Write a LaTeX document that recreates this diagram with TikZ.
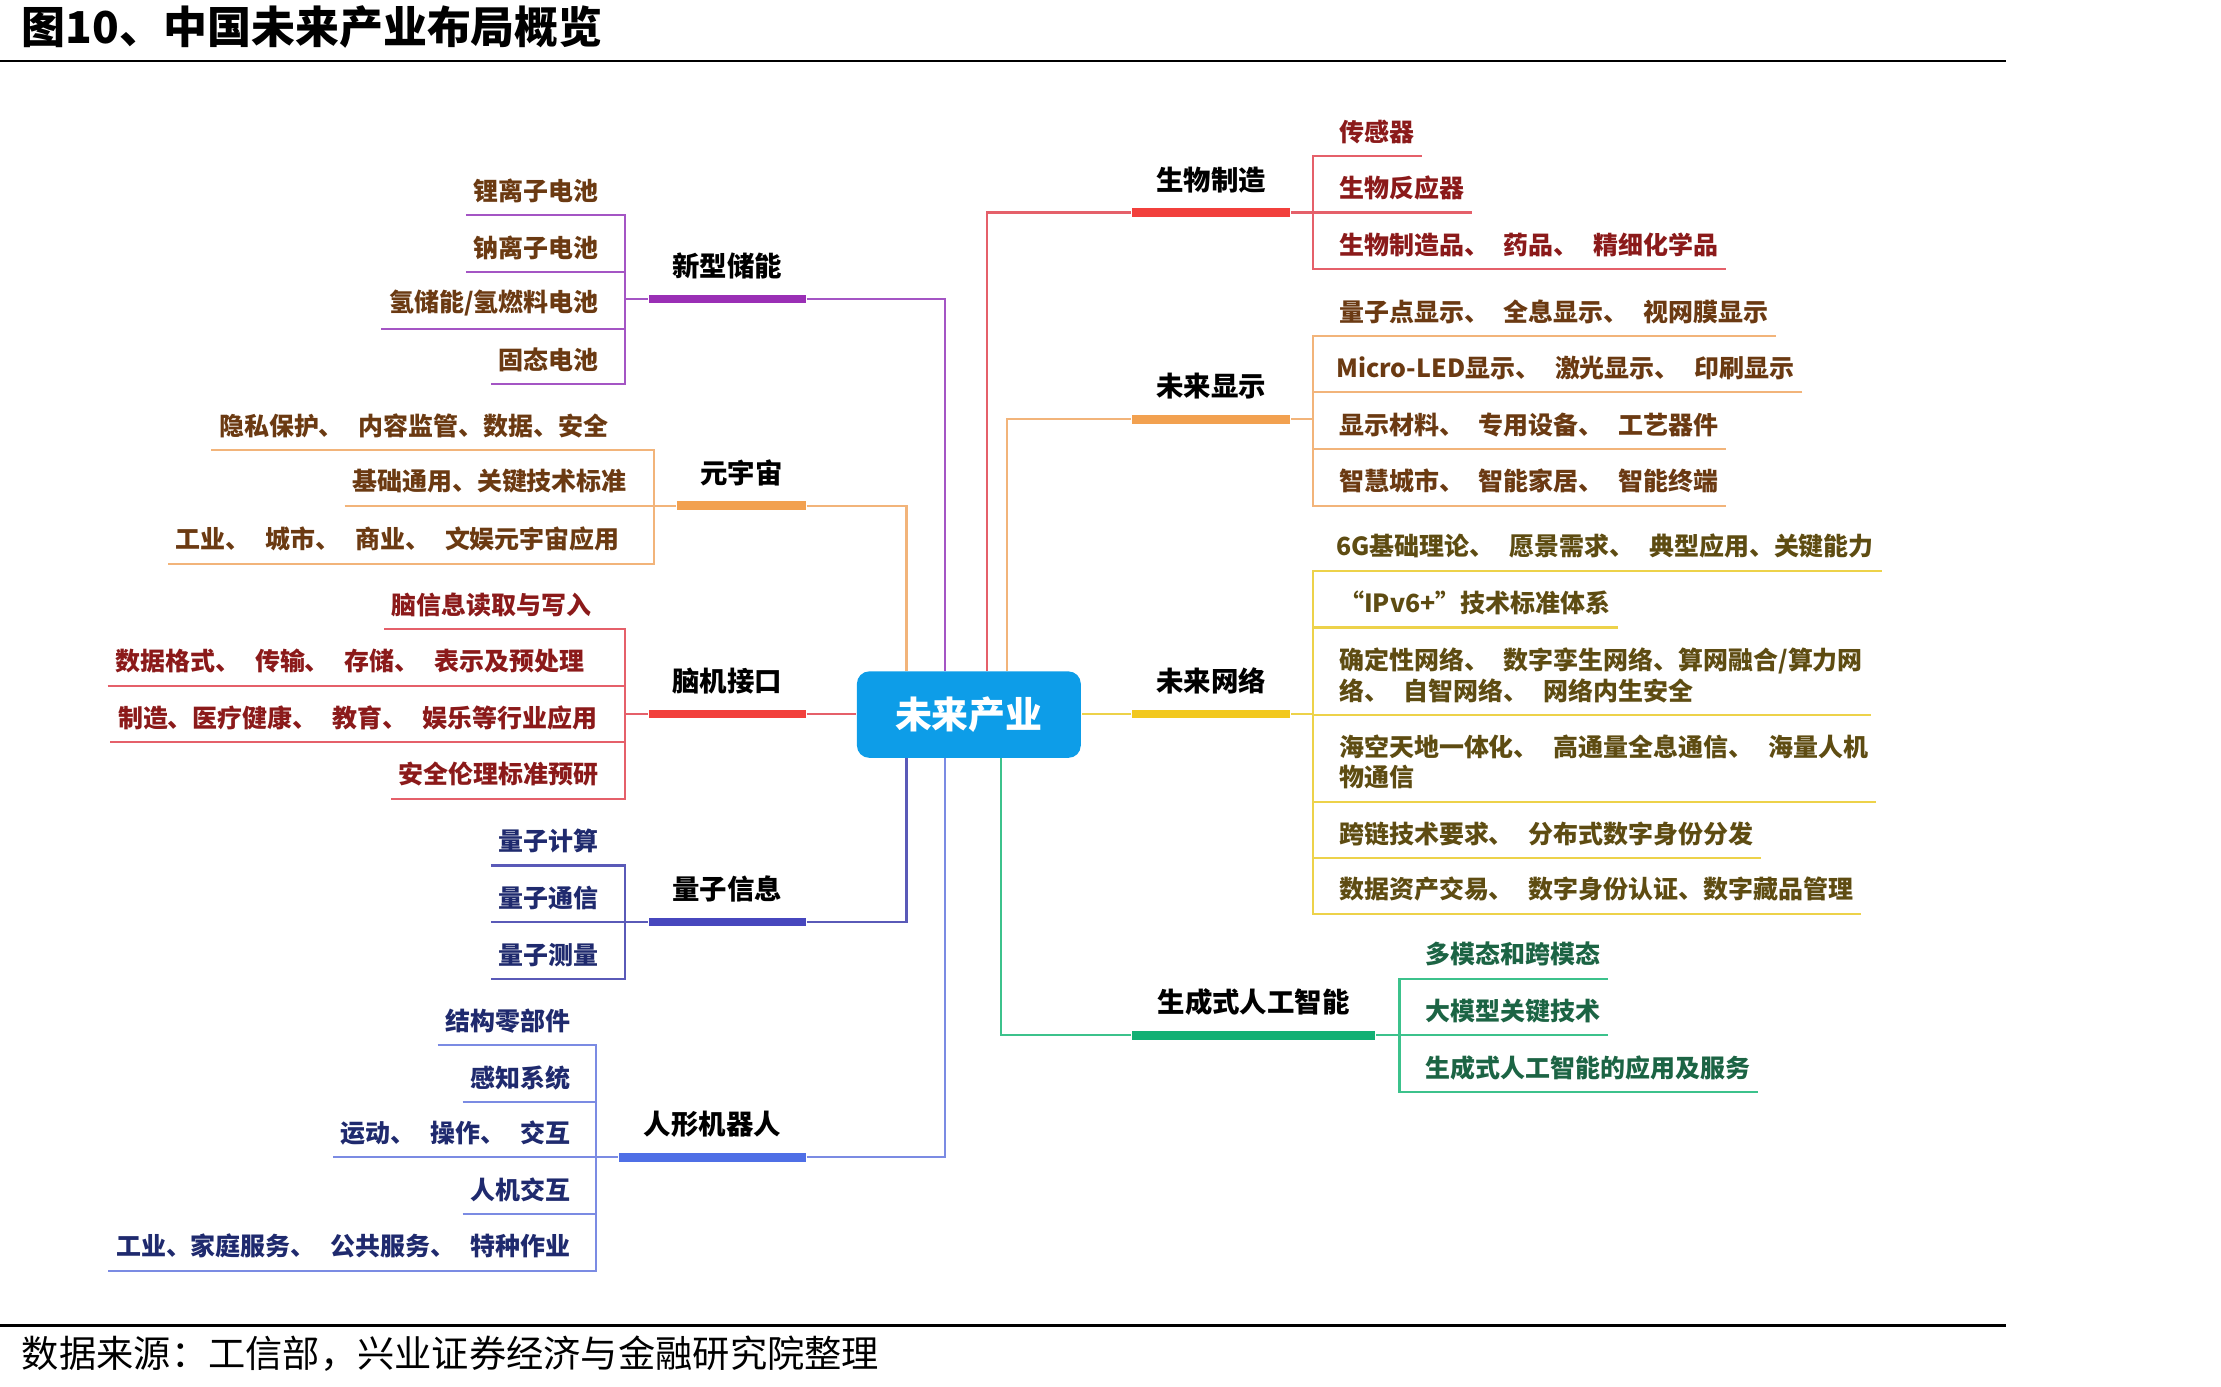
\documentclass[tikz,border=0pt]{standalone}
\usepackage{fontspec}
\setmainfont{Noto Sans CJK SC}
\newfontfamily\leaffamily{Noto Sans CJK SC}[WordSpace=2.6]
\usepackage{tikz}
\usetikzlibrary{positioning}
\usepackage{xcolor}
\definecolor{hubblue}{HTML}{0D9DE8}
\definecolor{purpbar}{HTML}{9A2FB5}
\definecolor{purpline}{HTML}{A455C4}
\definecolor{orgbar}{HTML}{F2A150}
\definecolor{orgline}{HTML}{F2B47A}
\definecolor{redbar}{HTML}{F2403C}
\definecolor{redline}{HTML}{E5606A}
\definecolor{qbar}{HTML}{4747BE}
\definecolor{qline}{HTML}{5A5AB8}
\definecolor{rbar}{HTML}{4F6FE6}
\definecolor{rline}{HTML}{7B8BE3}
\definecolor{ylwbar}{HTML}{F2C81E}
\definecolor{ylwline}{HTML}{EDD24A}
\definecolor{grnbar}{HTML}{12B074}
\definecolor{grnline}{HTML}{3CC28C}
\definecolor{txtbrown}{HTML}{6B3A12}
\definecolor{txtred}{HTML}{8B1A1A}
\definecolor{txtnavy}{HTML}{1F2A6E}
\definecolor{txtolive}{HTML}{5E4C12}
\definecolor{txtgreen}{HTML}{1C6444}
\tikzset{
  leaf/.style={font=\leaffamily\fontsize{7.1}{8.8}\selectfont\bfseries, inner xsep=2pt,
               inner ysep=3.3pt, align=left},
  leafL/.style={leaf, anchor=south east},
  leafR/.style={leaf, anchor=south west},
  branch/.style={font=\fontsize{7.8}{9}\selectfont\bfseries, inner sep=0pt},
  bar/.style={fill=#1, inner sep=0pt, minimum height=0.085cm},
  conn/.style={line width=0.6pt},
}

\begin{document}
\begin{tikzpicture}[x=0.014165cm, y=-0.014165cm]
  \useasboundingbox (0,0) rectangle (1568,979);

  % title and source
  \node[anchor=west, inner sep=0pt, font=\fontsize{12.5}{14}\selectfont\bfseries]
    (title) at (15,19) {图10、中国未来产业布局概览};
  \coordinate (topL) at (0,43);
  \coordinate (topR) at (1416,43);
  \draw[line width=0.8pt] (topL) -- (topR);
  \coordinate (botL) at (0,936);
  \coordinate (botR) at (1416,936);
  \draw[line width=0.8pt] (botL) -- (botR);
  \node[anchor=west, inner sep=0pt, font=\fontsize{10.6}{12}\selectfont]
    (source) at (15,956) {数据来源：工信部，兴业证券经济与金融研究院整理};

  % hub ports
  \coordinate (hubA) at (667,474);
  \coordinate (hubB) at (640,474);
  \coordinate (hubC) at (640,535);
  \coordinate (hubD) at (667,535);
  \coordinate (hubE) at (697,474);
  \coordinate (hubF) at (711,474);
  \coordinate (hubG) at (707,535);

  % 新型储能
  \node[bar=purpbar, minimum width=1.572cm] (xsbar) at (513.5,211) {};
  \node[branch, above=4pt of xsbar] (xs) {新型储能};
  \coordinate (xsbr) at (441,211);
  \node[leafL, text=txtbrown] (xs1) at (428,152) {锂离子电池};
  \node[leafL, text=txtbrown] (xs2) at (428,192) {钠离子电池};
  \node[leafL, text=txtbrown] (xs3) at (428,232) {氢储能/氢燃料电池};
  \node[leafL, text=txtbrown] (xs4) at (428,271) {固态电池};
  \draw[conn, purpline] (xs1.south west) -- (xs1.south west -| xsbr)
                        -- (xs4.south west -| xsbr) -- (xs4.south west);
  \draw[conn, purpline] (xs2.south west) -- (xs2.south west -| xsbr);
  \draw[conn, purpline] (xs3.south west) -- (xs3.south west -| xsbr);
  \draw[conn, purpline] (xsbr) -- (xsbar.west);
  \draw[conn, purpline] (xsbar.east) -| (hubA);

  % 元宇宙
  \node[bar=orgbar, minimum width=1.289cm] (yzbar) at (523.5,357) {};
  \node[branch, above=4pt of yzbar] (yz) {元宇宙};
  \coordinate (yzbr) at (462,357);
  \node[leafL, text=txtbrown] (yz1) at (435,318) {隐私保护、 内容监管、数据、安全};
  \node[leafL, text=txtbrown] (yz2) at (448,357) {基础通用、关键技术标准};
  \node[leafL, text=txtbrown] (yz3) at (443,398) {工业、 城市、 商业、 文娱元宇宙应用};
  \draw[conn, orgline] (yz1.south west) -- (yz1.south west -| yzbr)
                       -- (yz3.south west -| yzbr) -- (yz3.south west);
  \draw[conn, orgline] (yz2.south west) -- (yzbar.west);
  \draw[conn, orgline] (yzbar.east) -| (hubB);

  % 脑机接口
  \node[bar=redbar, minimum width=1.572cm] (njbar) at (513.5,504) {};
  \node[branch, above=4pt of njbar] (nj) {脑机接口};
  \coordinate (njbr) at (441,504);
  \node[leafL, text=txtred] (nj1) at (423,444) {脑信息读取与写入};
  \node[leafL, text=txtred] (nj2) at (418,484) {数据格式、 传输、 存储、 表示及预处理};
  \node[leafL, text=txtred] (nj3) at (427,524) {制造、医疗健康、 教育、 娱乐等行业应用};
  \node[leafL, text=txtred] (nj4) at (428,564) {安全伦理标准预研};
  \draw[conn, redline] (nj1.south west) -- (nj1.south west -| njbr)
                       -- (nj4.south west -| njbr) -- (nj4.south west);
  \draw[conn, redline] (nj2.south west) -- (nj2.south west -| njbr);
  \draw[conn, redline] (nj3.south west) -- (nj3.south west -| njbr);
  \draw[conn, redline] (njbr) -- (njbar.west);

  % 量子信息
  \node[bar=qbar, minimum width=1.572cm] (lzbar) at (513.5,651) {};
  \node[branch, above=4pt of lzbar] (lz) {量子信息};
  \coordinate (lzbr) at (441,651);
  \node[leafL, text=txtnavy] (lz1) at (428,611) {量子计算};
  \node[leafL, text=txtnavy] (lz2) at (428,651) {量子通信};
  \node[leafL, text=txtnavy] (lz3) at (428,691) {量子测量};
  \draw[conn, qline] (lz1.south west) -- (lz1.south west -| lzbr)
                     -- (lz3.south west -| lzbr) -- (lz3.south west);
  \draw[conn, qline] (lz2.south west) -- (lzbar.west);
  \draw[conn, qline] (lzbar.east) -| (hubC);

  % 人形机器人
  \node[bar=rbar, minimum width=1.870cm] (rxbar) at (503,817) {};
  \node[branch, above=4pt of rxbar] (rx) {人形机器人};
  \coordinate (rxbr) at (421,817);
  \node[leafL, text=txtnavy] (rx1) at (408,738) {结构零部件};
  \node[leafL, text=txtnavy] (rx2) at (408,778) {感知系统};
  \node[leafL, text=txtnavy] (rx3) at (408,817) {运动、 操作、 交互};
  \node[leafL, text=txtnavy] (rx4) at (408,857) {人机交互};
  \node[leafL, text=txtnavy] (rx5) at (408,897) {工业、家庭服务、 公共服务、 特种作业};
  \draw[conn, rline] (rx1.south west) -- (rx1.south west -| rxbr)
                     -- (rx5.south west -| rxbr) -- (rx5.south west);
  \draw[conn, rline] (rx2.south west) -- (rx2.south west -| rxbr);
  \draw[conn, rline] (rx3.south west) -- (rxbar.west);
  \draw[conn, rline] (rx4.south west) -- (rx4.south west -| rxbr);
  \draw[conn, rline] (rxbar.east) -| (hubD);

  % 生物制造
  \node[bar=redbar, minimum width=1.586cm] (swbar) at (855,150) {};
  \node[branch, above=4pt of swbar] (sw) {生物制造};
  \coordinate (swbr) at (927,150);
  \node[leafR, text=txtred] (sw1) at (940,110) {传感器};
  \node[leafR, text=txtred] (sw2) at (940,150) {生物反应器};
  \node[leafR, text=txtred] (sw3) at (940,190) {生物制造品、 药品、 精细化学品};
  \draw[conn, redline] (sw1.south east) -- (sw1.south east -| swbr)
                       -- (sw3.south east -| swbr) -- (sw3.south east);
  \draw[conn, redline] (sw2.south east) -- (swbar.east);
  \draw[conn, redline] (swbar.west) -| (hubE);

  % 未来显示
  \node[bar=orgbar, minimum width=1.586cm] (wxbar) at (855,296) {};
  \node[branch, above=4pt of wxbar] (wx) {未来显示};
  \coordinate (wxbr) at (927,296);
  \node[leafR, text=txtbrown] (wx1) at (940,237) {量子点显示、 全息显示、 视网膜显示};
  \node[leafR, text=txtbrown] (wx2) at (938,277) {Micro-LED显示、 激光显示、 印刷显示};
  \node[leafR, text=txtbrown] (wx3) at (940,317) {显示材料、 专用设备、 工艺器件};
  \node[leafR, text=txtbrown] (wx4) at (940,357) {智慧城市、 智能家居、 智能终端};
  \draw[conn, orgline] (wx1.south east) -- (wx1.south east -| wxbr)
                       -- (wx4.south east -| wxbr) -- (wx4.south east);
  \draw[conn, orgline] (wx2.south east) -- (wx2.south east -| wxbr);
  \draw[conn, orgline] (wx3.south east) -- (wx3.south east -| wxbr);
  \draw[conn, orgline] (wxbr) -- (wxbar.east);
  \draw[conn, orgline] (wxbar.west) -| (hubF);

  % 未来网络
  \node[bar=ylwbar, minimum width=1.586cm] (wlbar) at (855,504) {};
  \node[branch, above=4pt of wlbar] (wl) {未来网络};
  \coordinate (wlbr) at (927,504);
  \node[leafR, text=txtolive] (wl1) at (938,403) {6G基础理论、 愿景需求、 典型应用、关键能力};
  \node[leafR, text=txtolive] (wl2) at (940,443) {“IPv6+”技术标准体系};
  \node[leafR, text=txtolive] (wl3) at (940,505) {确定性网络、 数字孪生网络、算网融合/算力网\\络、 自智网络、 网络内生安全};
  \node[leafR, text=txtolive] (wl4) at (940,566) {海空天地一体化、 高通量全息通信、 海量人机\\物通信};
  \node[leafR, text=txtolive] (wl5) at (940,606) {跨链技术要求、 分布式数字身份分发};
  \node[leafR, text=txtolive] (wl6) at (940,645) {数据资产交易、 数字身份认证、数字藏品管理};
  \draw[conn, ylwline] (wl1.south east) -- (wl1.south east -| wlbr)
                       -- (wl6.south east -| wlbr) -- (wl6.south east);
  \draw[conn, ylwline] (wl2.south east) -- (wl2.south east -| wlbr);
  \draw[conn, ylwline] (wl3.south east) -- (wl3.south east -| wlbr);
  \draw[conn, ylwline] (wl4.south east) -- (wl4.south east -| wlbr);
  \draw[conn, ylwline] (wl5.south east) -- (wl5.south east -| wlbr);
  \draw[conn, ylwline] (wlbr) -- (wlbar.east);

  % 生成式人工智能
  \node[bar=grnbar, minimum width=2.436cm] (scbar) at (885,731) {};
  \node[branch, above=4pt of scbar] (sc) {生成式人工智能};
  \coordinate (scbr) at (988,731);
  \node[leafR, text=txtgreen] (sc1) at (1001,691) {多模态和跨模态};
  \node[leafR, text=txtgreen] (sc2) at (1001,731) {大模型关键技术};
  \node[leafR, text=txtgreen] (sc3) at (1001,771) {生成式人工智能的应用及服务};
  \draw[conn, grnline] (sc1.south east) -- (sc1.south east -| scbr)
                       -- (sc3.south east -| scbr) -- (sc3.south east);
  \draw[conn, grnline] (sc2.south east) -- (scbar.east);
  \draw[conn, grnline] (scbar.west) -| (hubG);

  % hub
  \node[fill=hubblue, rounded corners=3.5pt, minimum width=2.238cm,
        minimum height=0.864cm, text=white,
        font=\fontsize{10.5}{12}\selectfont\bfseries] (hub) at (684,504.5) {未来产业};
  \draw[conn, redline] (njbar.east) -- (njbar.east -| hub.west);
  \draw[conn, ylwline] (wlbar.west) -- (wlbar.west -| hub.east);
\end{tikzpicture}
\end{document}
